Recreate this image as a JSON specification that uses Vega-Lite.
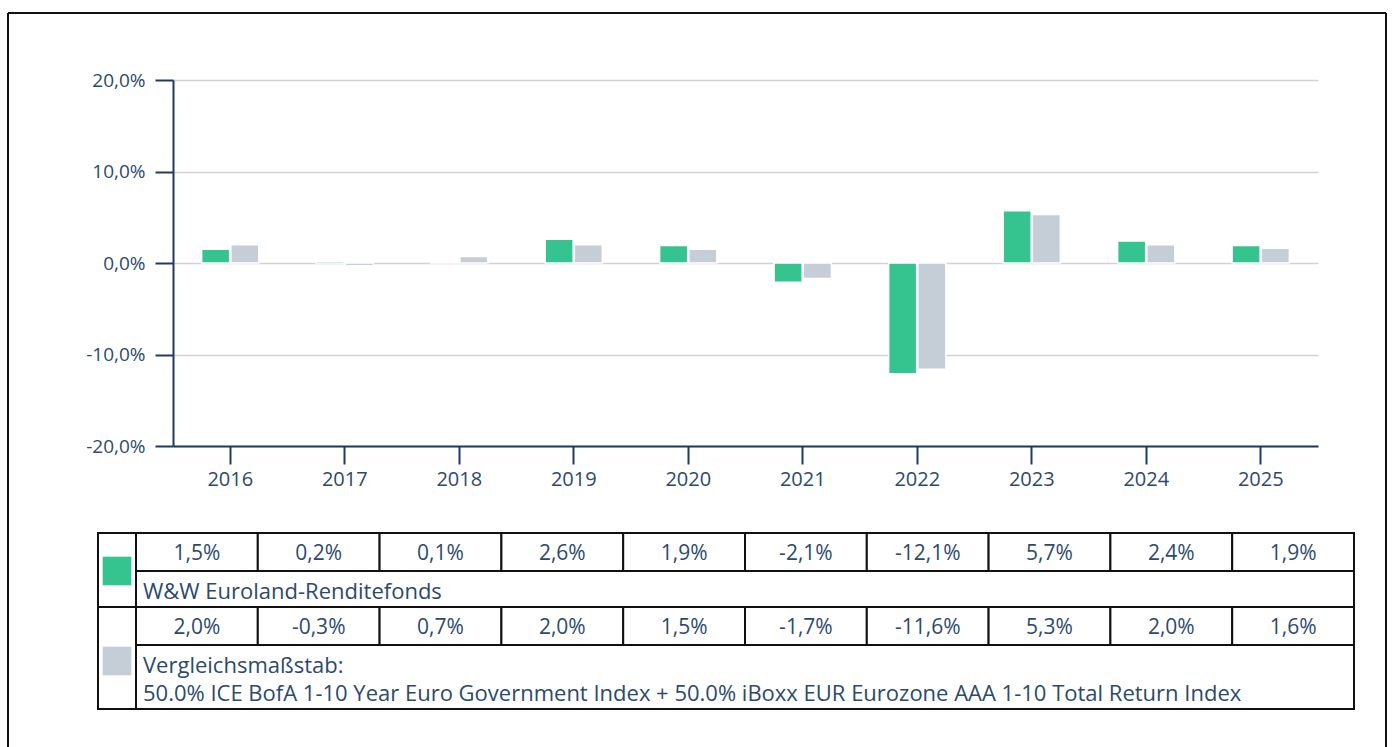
{
  "$schema": "https://vega.github.io/schema/vega-lite/v6.json",
  "width": 1378,
  "height": 734,
  "autosize": "none",
  "padding": {"left": 8, "top": 13, "right": 6, "bottom": 0},
  "background": "white",
  "config": {
    "view": {"stroke": null},
    "font": "Open Sans",
    "axis": {"labelFont": "Open Sans", "labelColor": "#2d4a6b", "title": null}
  },
  "datasets": {
    "returns": [
      {"year": "2016", "series": "fund", "value": 1.5, "label": "1,5%"},
      {"year": "2017", "series": "fund", "value": 0.2, "label": "0,2%"},
      {"year": "2018", "series": "fund", "value": 0.1, "label": "0,1%"},
      {"year": "2019", "series": "fund", "value": 2.6, "label": "2,6%"},
      {"year": "2020", "series": "fund", "value": 1.9, "label": "1,9%"},
      {"year": "2021", "series": "fund", "value": -2.1, "label": "-2,1%"},
      {"year": "2022", "series": "fund", "value": -12.1, "label": "-12,1%"},
      {"year": "2023", "series": "fund", "value": 5.7, "label": "5,7%"},
      {"year": "2024", "series": "fund", "value": 2.4, "label": "2,4%"},
      {"year": "2025", "series": "fund", "value": 1.9, "label": "1,9%"},
      {"year": "2016", "series": "bench", "value": 2.0, "label": "2,0%"},
      {"year": "2017", "series": "bench", "value": -0.3, "label": "-0,3%"},
      {"year": "2018", "series": "bench", "value": 0.7, "label": "0,7%"},
      {"year": "2019", "series": "bench", "value": 2.0, "label": "2,0%"},
      {"year": "2020", "series": "bench", "value": 1.5, "label": "1,5%"},
      {"year": "2021", "series": "bench", "value": -1.7, "label": "-1,7%"},
      {"year": "2022", "series": "bench", "value": -11.6, "label": "-11,6%"},
      {"year": "2023", "series": "bench", "value": 5.3, "label": "5,3%"},
      {"year": "2024", "series": "bench", "value": 2.0, "label": "2,0%"},
      {"year": "2025", "series": "bench", "value": 1.6, "label": "1,6%"}
    ],
    "legend": [
      {"series": "fund", "name": "W&W Euroland-Renditefonds", "r0": 0, "r1": 2, "rm": 1, "rl": 1.58},
      {"series": "bench", "name": "Vergleichsmaßstab:\n50.0% ICE BofA 1-10 Year Euro Government Index + 50.0% iBoxx EUR Eurozone AAA 1-10 Total Return Index", "r0": 2, "r1": 5, "rm": 3.5, "rl": 3.66}
    ]
  },
  "layer": [
    {
      "data": {"values": [{"frame": "edge"}]},
      "layer": [
        {"mark": {"type": "rule", "color": "#111111", "strokeWidth": 2}, "encoding": {"x": {"datum": 0, "type": "quantitative", "scale": {"domain": [0, 1], "nice": false, "zero": false}, "axis": null}}},
        {"mark": {"type": "rule", "color": "#111111", "strokeWidth": 2}, "encoding": {"x": {"datum": 1, "type": "quantitative", "scale": {"domain": [0, 1], "nice": false, "zero": false}, "axis": null}}},
        {"mark": {"type": "rule", "color": "#111111", "strokeWidth": 2}, "encoding": {"y": {"datum": 1, "type": "quantitative", "scale": {"domain": [0, 1], "nice": false, "zero": false}, "axis": null}}}
      ]
    },
    {
      "data": {"name": "returns"},
      "mark": {"type": "bar", "stroke": "white", "strokeWidth": 1.5},
      "encoding": {
        "x": {
          "field": "year", "type": "ordinal",
          "scale": {"range": [165, 1310], "paddingInner": 0.5, "paddingOuter": 0.25},
          "axis": {"offset": -301, "labelAngle": 0, "labelFontSize": 20, "labelPadding": 5, "tickSize": 18, "tickWidth": 2, "tickColor": "#1d3b5e", "domainColor": "#1d3b5e", "domainWidth": 2, "grid": false}
        },
        "xOffset": {"field": "series", "type": "nominal", "scale": {"domain": ["fund", "bench"], "paddingInner": 0.04}},
        "y": {
          "field": "value", "type": "quantitative",
          "scale": {"domain": [-20, 20], "range": [433, 67], "nice": false},
          "axis": {"offset": -165, "values": [-20, -10, 0, 10, 20], "labelExpr": "replace(replace(format(datum.value, '.1f'), '.', ','), '\u2212', '-') + '%'", "labelFontSize": 19, "labelPadding": 10, "tickSize": 18, "tickWidth": 2, "tickColor": "#1d3b5e", "domainColor": "#1d3b5e", "domainWidth": 2, "grid": true, "gridColor": "#d2d2d2", "gridWidth": 1.5}
        },
        "color": {"field": "series", "type": "nominal", "scale": {"domain": ["fund", "bench"], "range": ["#35c48f", "#c5ced6"]}, "legend": null}
      }
    },
    {
      "data": {"name": "legend"},
      "layer": [
        {
          "mark": {"type": "rect", "fill": "white", "stroke": "#111111", "strokeWidth": 2},
          "encoding": {
            "x": {"datum": -1, "type": "quantitative", "scale": {"domain": [-1, 0, 10], "range": [90, 128, 1346], "nice": false, "zero": false}, "axis": null},
            "x2": {"datum": 10},
            "y": {"field": "r0", "type": "quantitative", "scale": {"domain": [0, 1, 2, 3, 5], "range": [520, 558, 594, 632, 696], "nice": false, "zero": false}, "axis": null},
            "y2": {"field": "r1"}
          }
        },
        {
          "mark": {"type": "rect", "fill": "white", "stroke": "#111111", "strokeWidth": 2},
          "encoding": {
            "x": {"datum": 0, "type": "quantitative", "scale": {"domain": [-1, 0, 10], "range": [90, 128, 1346], "nice": false, "zero": false}, "axis": null},
            "x2": {"datum": 10},
            "y": {"field": "r0", "type": "quantitative", "scale": {"domain": [0, 1, 2, 3, 5], "range": [520, 558, 594, 632, 696], "nice": false, "zero": false}, "axis": null},
            "y2": {"field": "r1"}
          }
        },
        {
          "mark": {"type": "point", "shape": "square", "filled": true, "size": 820, "opacity": 1},
          "encoding": {
            "x": {"datum": -0.5, "type": "quantitative", "scale": {"domain": [-1, 0, 10], "range": [90, 128, 1346], "nice": false, "zero": false}, "axis": null},
            "y": {"field": "rm", "type": "quantitative", "scale": {"domain": [0, 1, 2, 3, 5], "range": [520, 558, 594, 632, 696], "nice": false, "zero": false}, "axis": null},
            "color": {"field": "series", "type": "nominal", "scale": {"domain": ["fund", "bench"], "range": ["#35c48f", "#c5ced6"]}, "legend": null}
          }
        },
        {
          "mark": {"type": "text", "align": "left", "baseline": "middle", "dx": 7, "fontSize": 22, "lineBreak": "\n", "lineHeight": 28, "color": "#2d4a6b"},
          "encoding": {
            "x": {"datum": 0, "type": "quantitative", "scale": {"domain": [-1, 0, 10], "range": [90, 128, 1346], "nice": false, "zero": false}, "axis": null},
            "y": {"field": "rl", "type": "quantitative", "scale": {"domain": [0, 1, 2, 3, 5], "range": [520, 558, 594, 632, 696], "nice": false, "zero": false}, "axis": null},
            "text": {"field": "name"}
          }
        }
      ]
    },
    {
      "data": {"name": "returns"},
      "encoding": {
        "x": {"field": "year", "type": "ordinal", "scale": {"range": [128, 1346], "paddingInner": 0, "paddingOuter": 0}, "axis": null},
        "y": {"field": "series", "type": "nominal", "scale": {"domain": ["fund", "bench"], "range": [520, 632], "paddingInner": 0.4865, "paddingOuter": 0}, "axis": null}
      },
      "layer": [
        {"mark": {"type": "rect", "fill": "white", "stroke": "#111111", "strokeWidth": 2}},
        {"mark": {"type": "text", "fontSize": 21, "color": "#2d4a6b", "dy": 2}, "encoding": {"text": {"field": "label"}}}
      ]
    }
  ],
  "resolve": {
    "scale": {"x": "independent", "y": "independent"},
    "axis": {"x": "independent", "y": "independent"}
  }
}
